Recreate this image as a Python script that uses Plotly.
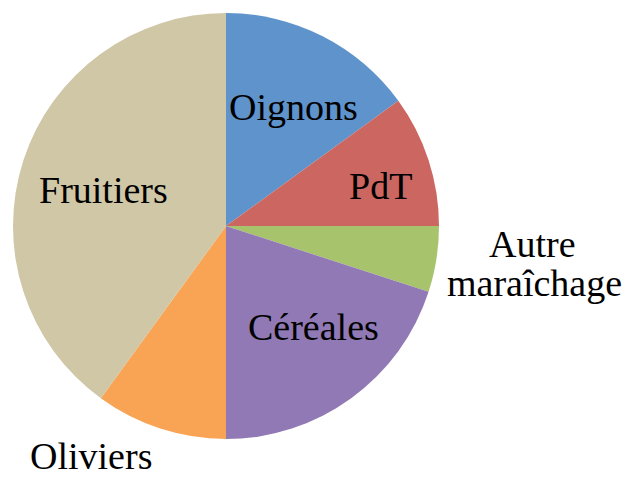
import plotly.graph_objects as go

# Surface par culture (%)
labels = ["Oignons", "PdT", "Autre maraîchage", "Céréales", "Oliviers", "Fruitiers"]
values = [15, 10, 5, 20, 10, 40]
colors = ["#5F93CB", "#CC6660", "#A7C46D", "#9079B4", "#F9A455", "#D0C7A7"]

W, H = 629, 478

fig = go.Figure(go.Pie(
    labels=labels,
    values=values,
    sort=False,
    direction="clockwise",
    rotation=0,
    marker=dict(colors=colors, line=dict(width=0)),
    textinfo="none",
    hoverinfo="label+percent",
    domain=dict(x=[13 / W, 439 / W], y=[1 - 439 / H, 1 - 13 / H]),
    showlegend=False,
))

FONT = dict(family="Liberation Serif", size=38, color="#000000")

# Label placement: one entry per text line, pixel centres on the page
label_lines = [
    ("Oignons", 293, 107),
    ("PdT", 381, 186),
    ("Autre", 532, 244),
    ("maraîchage", 534, 283),
    ("Céréales", 313, 327),
    ("Fruitiers", 104, 190),
]
for text, px, py in label_lines:
    fig.add_annotation(
        x=px / W, y=1 - py / H, xref="paper", yref="paper",
        text=text, showarrow=False, xanchor="center", yanchor="middle",
        font=FONT,
    )

# "Oliviers" sits on the bottom edge of the page
fig.add_annotation(
    x=91 / W, y=0, xref="paper", yref="paper",
    text="Oliviers", showarrow=False, xanchor="center", yanchor="bottom",
    borderpad=0, font=FONT,
)

fig.update_layout(
    width=W, height=H,
    margin=dict(l=0, r=0, t=0, b=0),
    paper_bgcolor="white",
    plot_bgcolor="white",
)

fig.write_html("out.html")
